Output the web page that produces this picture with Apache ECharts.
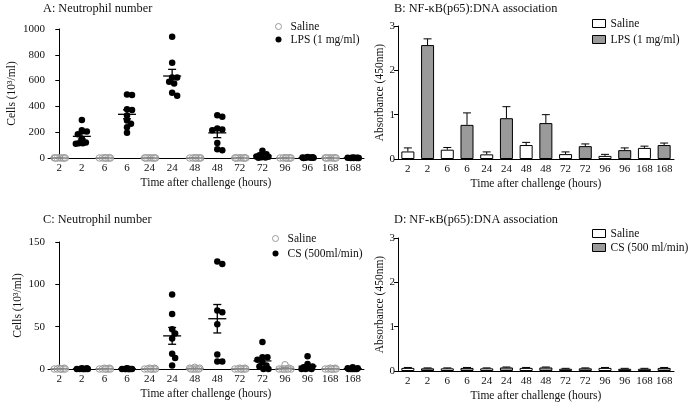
<!DOCTYPE html>
<html>
<head>
<meta charset="utf-8">
<script src="https://cdn.jsdelivr.net/npm/echarts@6/dist/echarts.min.js"></script>
<style>
  html, body { margin: 0; padding: 0; background: #fff; }
  #main { width: 689px; height: 406px; }
</style>
</head>
<body>
<div id="main"></div>
<script>
// category labels (each time point shown twice: saline, then treated)
var hours = ['2', '6', '24', '48', '72', '96', '168']
var xLabels = []
hours.forEach(function (h) { xLabels.push(h, h) })

// A: neutrophil number, 10^3/ml, one list of animals per time point
var salineA = [
  [2, 1, 1, 0, 0, 0, 0, 0],
  [2, 1, 0, 0, 0, 0, 0, 0],
  [2, 1, 1, 0, 0, 0, 0, 0],
  [2, 1, 0, 0, 0, 0, 0, 0],
  [2, 1, 1, 0, 0, 0, 0, 0],
  [2, 1, 0, 0, 0, 0, 0, 0],
  [2, 1, 1, 0, 0, 0, 0, 0]
]
var lpsA = [
  [295, 215, 205, 185, 150, 120, 115, 110, 115],
  [492, 488, 378, 372, 330, 290, 265, 238, 195],
  [940, 738, 625, 625, 591, 578, 505, 482],
  [332, 319, 228, 220, 215, 117, 68, 60],
  [57, 30, 22, 18, 12, 10, 6, 4, 2],
  [8, 5, 4, 3, 2, 2, 1, 0],
  [3, 2, 1, 1, 0, 0, 0, 0]
]

// B: NF-kB(p65):DNA association, absorbance 450nm (mean, error)
var salineB = [0.17, 0.21, 0.105, 0.315, 0.11, 0.07, 0.25]
var salineBErr = [0.08, 0.05, 0.055, 0.06, 0.05, 0.035, 0.04]
var lpsB = [2.57, 0.77, 0.92, 0.81, 0.29, 0.2, 0.315]
var lpsBErr = [0.14, 0.27, 0.26, 0.19, 0.05, 0.05, 0.045]

// C: neutrophil number after cigarette smoke
var salineC = [
  [1, 1, 0, 0, 0, 0, 0, 0],
  [1, 1, 0, 0, 0, 0, 0, 0],
  [1, 1, 0, 0, 0, 0, 0, 0],
  [2, 1, 1, 0, 0, 0, 0, 0],
  [1, 1, 0, 0, 0, 0, 0, 0],
  [5, 1, 0, 0, 0, 0, 0, 0],
  [1, 1, 0, 0, 0, 0, 0, 0]
]
var csC = [
  [1, 1, 0, 0, 0, 0, 0, 0],
  [1, 0, 0, 0, 0, 0, 0, 0],
  [88, 65, 47, 42, 36, 18, 13, 4],
  [127, 124, 69, 67, 53, 17, 9, 9],
  [32, 14, 14, 11, 8, 4, 3, 0, 0],
  [15, 6, 3, 2, 1, 0, 0, 0],
  [2, 1, 1, 0, 0, 0, 0, 0]
]

// D: NF-kB(p65):DNA association after cigarette smoke
var salineD = [0.07, 0.06, 0.06, 0.07, 0.05, 0.07, 0.05]
var salineDErr = [0.01, 0.01, 0.01, 0.01, 0.01, 0.01, 0.01]
var csD = [0.06, 0.07, 0.08, 0.08, 0.06, 0.05, 0.07]
var csDErr = [0.01, 0.01, 0.01, 0.01, 0.01, 0.01, 0.01]

var FONT = 'Liberation Serif'
var GREY = '#9a9a9a'

// grid boxes (px)
var gA = { left: 48, top: 29, width: 316, height: 129 }
var gB = { left: 398, top: 26, width: 276, height: 133 }
var gC = { left: 48, top: 242, width: 316, height: 127 }
var gD = { left: 398, top: 238, width: 276, height: 133 }

// simple beeswarm so overlapping points spread sideways
function swarm(groups, offset, yMax, grid) {
  var out = []
  var catW = grid.width / 14
  var pxPer = grid.height / yMax
  groups.forEach(function (vals, g) {
    var idx = g * 2 + offset
    var placed = []
    vals.slice().sort(function (a, b) { return b - a }).forEach(function (v) {
      var py = v * pxPer
      var best = 0, bestD = -1
      for (var k = 0; k <= 12; k++) {
        var off = (k % 2 ? 1 : -1) * Math.ceil(k / 2)
        var d = 99
        placed.forEach(function (p) {
          d = Math.min(d, Math.hypot(p[0] - off, p[1] - py))
        })
        if (d >= 5) { best = off; bestD = d; break }
        if (d > bestD) { bestD = d; best = off }
      }
      placed.push([best, py])
      out.push([idx + best / catW, v])
    })
  })
  return out
}

function meanSem(groups, offset) {
  return groups.map(function (vals, g) {
    var n = vals.length
    var m = vals.reduce(function (a, b) { return a + b }, 0) / n
    var ss = vals.reduce(function (a, b) { return a + (b - m) * (b - m) }, 0)
    var sem = Math.sqrt(ss / (n - 1)) / Math.sqrt(n)
    return [g * 2 + offset, m, sem]
  })
}

function barData(vals, offset) {
  var arr = []
  for (var i = 0; i < 14; i++) arr.push('-')
  vals.forEach(function (v, g) { arr[g * 2 + offset] = v })
  return arr
}

function errData(vals, errs, offset) {
  return vals.map(function (v, g) { return [g * 2 + offset, v, errs[g]] })
}

// mean line with SEM whiskers
function meanRender(color) {
  return function (params, api) {
    var x = api.value(0), m = api.value(1), s = api.value(2)
    var c = api.coord([x, m])
    var hi = api.coord([x, m + s])
    var lo = api.coord([x, m - s])
    var st = { stroke: color, lineWidth: 1.3 }
    return {
      type: 'group',
      children: [
        { type: 'line', shape: { x1: c[0] - 9, y1: c[1], x2: c[0] + 9, y2: c[1] }, style: st },
        { type: 'line', shape: { x1: c[0], y1: hi[1], x2: c[0], y2: lo[1] }, style: st },
        { type: 'line', shape: { x1: c[0] - 4, y1: hi[1], x2: c[0] + 4, y2: hi[1] }, style: st },
        { type: 'line', shape: { x1: c[0] - 4, y1: lo[1], x2: c[0] + 4, y2: lo[1] }, style: st }
      ]
    }
  }
}

// upper error bar on top of a bar
function errRender(params, api) {
  var x = api.value(0), v = api.value(1), e = api.value(2)
  var b = api.coord([x, v])
  var t = api.coord([x, v + e])
  var st = { stroke: '#000', lineWidth: 1 }
  return {
    type: 'group',
    children: [
      { type: 'line', shape: { x1: b[0], y1: b[1], x2: t[0], y2: t[1] }, style: st },
      { type: 'line', shape: { x1: t[0] - 4, y1: t[1], x2: t[0] + 4, y2: t[1] }, style: st }
    ]
  }
}

var txt = { fontFamily: FONT, fontSize: 11, color: '#111' }

function catAxis(grid) {
  return {
    type: 'category', gridIndex: grid, data: xLabels,
    axisLine: { lineStyle: { color: '#000', width: 1 } },
    axisTick: { alignWithLabel: true, length: 3, lineStyle: { color: '#000' } },
    axisLabel: Object.assign({ margin: 5, interval: 0 }, txt),
    name: 'Time after challenge (hours)', nameLocation: 'middle', nameGap: 19,
    nameTextStyle: { fontFamily: FONT, fontSize: 11.5, color: '#111' }
  }
}
function hiddenAxis(grid) {
  return { type: 'value', gridIndex: grid, min: -0.5, max: 13.5, show: false }
}
function valAxis(grid, max, interval, name, gap) {
  return {
    type: 'value', gridIndex: grid, min: 0, max: max, interval: interval,
    splitLine: { show: false },
    axisLine: { show: true, lineStyle: { color: '#000', width: 1 } },
    axisTick: { show: true, length: 4, lineStyle: { color: '#000' } },
    axisLabel: Object.assign({ margin: 3, formatter: function (v) { return String(v) } }, txt),
    name: name, nameLocation: 'middle', nameGap: gap,
    nameTextStyle: { fontFamily: FONT, fontSize: 11.5, color: '#111' }
  }
}

function title(text, left, top) {
  return {
    text: text, left: left, top: top, padding: 0,
    textStyle: { fontFamily: FONT, fontSize: 12.3, fontWeight: 'normal', color: '#111' }
  }
}
function legend(names, left, top, gap, w, h, icon) {
  return {
    data: names, orient: 'vertical', left: left, top: top, itemGap: gap,
    itemWidth: w, itemHeight: h, padding: 0, icon: icon,
    itemStyle: { borderWidth: 1 },
    textStyle: { fontFamily: FONT, fontSize: 11.5, lineHeight: 13, color: '#111' },
    formatter: function (n) { return n.split('|')[1] }
  }
}

function scatterPair(prefix, salName, trtName, sal, trt, yMax, grid, xi, yi) {
  return [
    {
      name: prefix + '|' + salName, type: 'scatter', xAxisIndex: xi, yAxisIndex: yi,
      symbolSize: 6.5, data: swarm(sal, 0, yMax, grid),
      itemStyle: { color: 'rgba(255,255,255,0.3)', borderColor: GREY, borderWidth: 1, opacity: 1 }
    },
    {
      name: prefix + '|' + trtName, type: 'scatter', xAxisIndex: xi, yAxisIndex: yi,
      symbolSize: 6.5, data: swarm(trt, 1, yMax, grid),
      itemStyle: { color: '#000', opacity: 1 }
    },
    {
      type: 'custom', xAxisIndex: xi, yAxisIndex: yi, renderItem: meanRender('#888'),
      data: meanSem(sal, 0), z: 3
    },
    {
      type: 'custom', xAxisIndex: xi, yAxisIndex: yi, renderItem: meanRender('#000'),
      data: meanSem(trt, 1), z: 3
    }
  ]
}

function barPair(prefix, salName, trtName, sal, salErr, trt, trtErr, xi, yi) {
  return [
    {
      name: prefix + '|' + salName, type: 'bar', xAxisIndex: xi, yAxisIndex: yi,
      barWidth: '66%', barGap: '-100%', data: barData(sal, 0),
      itemStyle: { color: '#fff', borderColor: '#000', borderWidth: 1 }
    },
    {
      name: prefix + '|' + trtName, type: 'bar', xAxisIndex: xi, yAxisIndex: yi,
      barWidth: '66%', barGap: '-100%', data: barData(trt, 1),
      itemStyle: { color: GREY, borderColor: '#000', borderWidth: 1 }
    },
    {
      type: 'custom', xAxisIndex: xi, yAxisIndex: yi, renderItem: errRender,
      data: errData(sal, salErr, 0).concat(errData(trt, trtErr, 1)), z: 3
    }
  ]
}

var chart = echarts.init(document.getElementById('main'))
chart.setOption({
  animation: false,
  backgroundColor: '#fff',
  title: [
    title('A: Neutrophil number', 43, 3),
    title('B: NF-κB(p65):DNA association', 394, 3),
    title('C: Neutrophil number', 43, 214),
    title('D: NF-κB(p65):DNA association', 394, 214)
  ],
  legend: [
    legend(['A|Saline', 'A|LPS (1 mg/ml)'], 275, 20, 0, 14, 6, 'circle'),
    legend(['B|Saline', 'B|LPS (1 mg/ml)'], 592, 17, 3, 13, 8, 'rect'),
    legend(['C|Saline', 'C|CS (500ml/min)'], 272, 232, 2, 14, 6, 'circle'),
    legend(['D|Saline', 'D|CS (500 ml/min)'], 592, 227, 1, 13, 8, 'rect')
  ],
  grid: [gA, gB, gC, gD],
  xAxis: [catAxis(0), hiddenAxis(0), catAxis(1), catAxis(2), hiddenAxis(2), catAxis(3)],
  yAxis: [
    valAxis(0, 1000, 200, 'Cells (10³/ml)', 30),
    valAxis(1, 3, 1, 'Absorbance (450nm)', 6),
    valAxis(2, 150, 50, 'Cells (10³/ml)', 24),
    valAxis(3, 3, 1, 'Absorbance (450nm)', 6)
  ],
  series: [].concat(
    scatterPair('A', 'Saline', 'LPS (1 mg/ml)', salineA, lpsA, 1000, gA, 1, 0),
    barPair('B', 'Saline', 'LPS (1 mg/ml)', salineB, salineBErr, lpsB, lpsBErr, 2, 1),
    scatterPair('C', 'Saline', 'CS (500ml/min)', salineC, csC, 150, gC, 4, 2),
    barPair('D', 'Saline', 'CS (500 ml/min)', salineD, salineDErr, csD, csDErr, 5, 3)
  )
})
</script>
</body>
</html>
